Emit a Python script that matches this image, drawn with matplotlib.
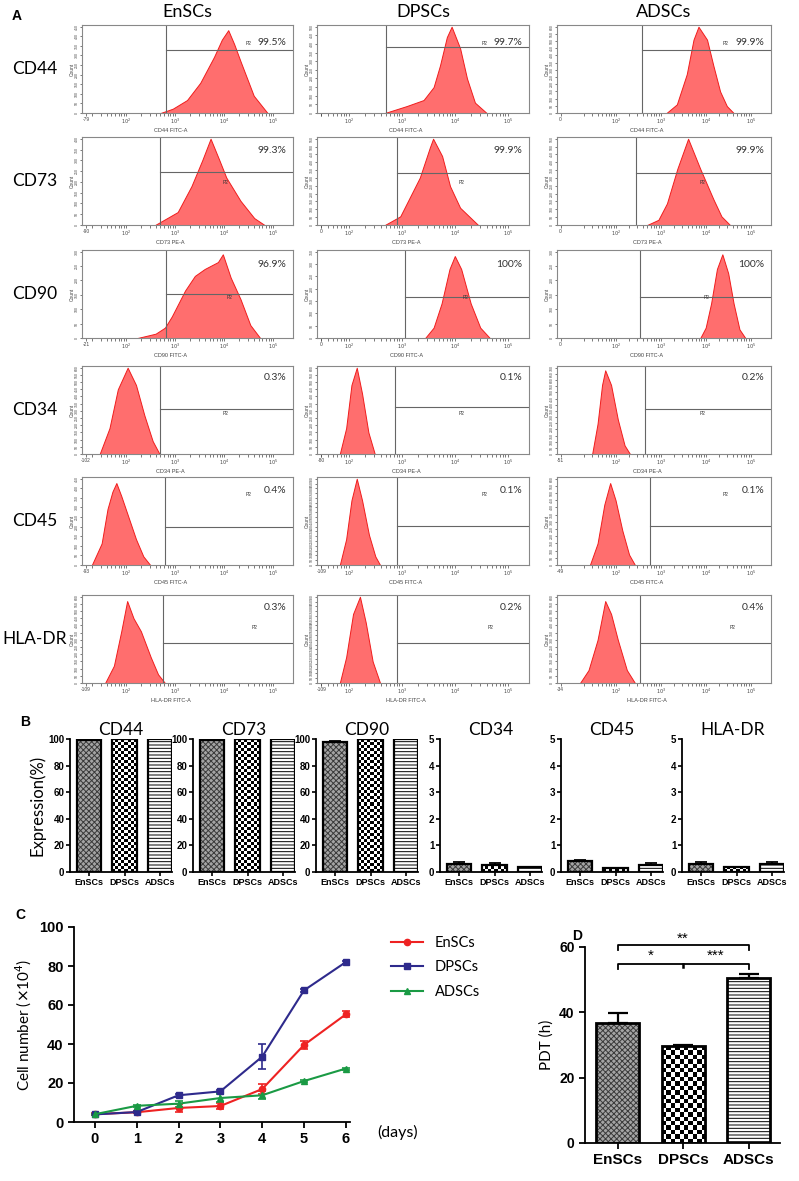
import numpy as np
import matplotlib
matplotlib.use("Agg")
import matplotlib.pyplot as plt

W, H = 799, 1181

# ---------------- data ----------------
markers = ["CD44", "CD73", "CD90", "CD34", "CD45", "HLA-DR"]
cells = ["EnSCs", "DPSCs", "ADSCs"]
channels = ["CD44 FITC-A", "CD73 PE-A", "CD90 FITC-A", "CD34 PE-A", "CD45 FITC-A", "HLA-DR FITC-A"]
percents = [["99.5%", "99.7%", "99.9%"],
            ["99.3%", "99.9%", "99.9%"],
            ["96.9%", "100%", "100%"],
            ["0.3%", "0.1%", "0.2%"],
            ["0.4%", "0.1%", "0.1%"],
            ["0.3%", "0.2%", "0.4%"]]
low_labels = [["-79", "", "0"], ["-90", "0", "0"], ["-21", "0", "0"],
              ["-102", "-80", "-51"], ["-93", "-109", "-49"], ["-109", "-109", "-34"]]
count_max = [[450, 500, 600], [400, 550, 550], [300, 350, 300],
             [600, 600, 700], [450, 900, 600], [600, 900, 600]]
gate_x = [[2.81, 2.70, 2.59], [2.69, 2.91, 2.46], [2.81, 3.06, 2.54],
          [2.69, 2.87, 2.66], [2.80, 2.90, 2.77], [2.75, 2.90, 2.54]]
gate_y = [[0.73, 0.76, 0.73], [0.61, 0.60, 0.60], [0.51, 0.48, 0.48],
          [0.52, 0.54, 0.52], [0.44, 0.45, 0.45], [0.46, 0.46, 0.46]]

# histogram outlines (x in log decades, y as fraction of axis)
hist_x = [
    [[2.70, 2.95, 3.24, 3.51, 3.79, 3.95, 4.08, 4.20, 4.33, 4.60, 4.88],
     [2.68, 3.09, 3.41, 3.60, 3.72, 3.85, 3.94, 4.10, 4.23, 4.38, 4.60],
     [3.13, 3.36, 3.58, 3.73, 3.84, 4.03, 4.17, 4.32, 4.47, 4.62]],
    [[2.59, 3.05, 3.33, 3.55, 3.72, 3.90, 4.04, 4.33, 4.61, 4.82],
     [2.68, 2.97, 3.34, 3.53, 3.59, 3.76, 3.91, 4.10, 4.44],
     [2.70, 2.95, 3.14, 3.37, 3.61, 3.88, 4.17, 4.35, 4.54]],
    [[2.23, 2.60, 2.79, 2.93, 3.20, 3.40, 3.60, 3.87, 3.97, 4.13, 4.33, 4.53, 4.73],
     [3.44, 3.60, 3.75, 3.90, 4.00, 4.12, 4.30, 4.48, 4.66],
     [3.88, 4.00, 4.12, 4.25, 4.37, 4.50, 4.62, 4.75, 4.88]],
    [[1.46, 1.66, 1.83, 2.03, 2.20, 2.37, 2.54, 2.68],
     [1.83, 1.95, 2.05, 2.15, 2.25, 2.37, 2.49],
     [1.48, 1.60, 1.70, 1.77, 1.90, 2.05, 2.20, 2.32]],
    [[1.30, 1.50, 1.62, 1.72, 1.80, 1.90, 2.05, 2.20, 2.35, 2.49],
     [1.83, 1.95, 2.05, 2.15, 2.25, 2.38, 2.50, 2.59],
     [1.43, 1.60, 1.75, 1.88, 2.00, 2.15, 2.30, 2.43]],
    [[1.57, 1.75, 1.90, 2.02, 2.15, 2.30, 2.50, 2.65, 2.79],
     [1.83, 1.95, 2.08, 2.21, 2.32, 2.45, 2.59],
     [1.21, 1.40, 1.60, 1.77, 1.90, 2.05, 2.25, 2.43]],
]
hist_y = [
    [[0, 0.05, 0.15, 0.35, 0.65, 0.85, 0.96, 0.80, 0.60, 0.20, 0],
     [0, 0.08, 0.15, 0.30, 0.55, 0.88, 1.00, 0.75, 0.40, 0.12, 0],
     [0, 0.10, 0.45, 0.85, 1.00, 0.85, 0.55, 0.25, 0.08, 0]],
    [[0, 0.15, 0.45, 0.75, 1.00, 0.75, 0.55, 0.28, 0.08, 0],
     [0, 0.10, 0.55, 0.90, 1.00, 0.80, 0.45, 0.20, 0],
     [0, 0.06, 0.25, 0.65, 1.00, 0.65, 0.30, 0.10, 0]],
    [[0, 0.05, 0.12, 0.25, 0.55, 0.72, 0.80, 0.88, 0.97, 0.70, 0.45, 0.15, 0],
     [0, 0.12, 0.40, 0.80, 0.95, 0.80, 0.40, 0.12, 0],
     [0, 0.12, 0.40, 0.80, 0.97, 0.75, 0.40, 0.10, 0]],
    [[0, 0.30, 0.75, 1.00, 0.80, 0.45, 0.15, 0],
     [0, 0.30, 0.80, 1.00, 0.70, 0.25, 0],
     [0, 0.35, 0.80, 0.97, 0.80, 0.40, 0.10, 0]],
    [[0, 0.25, 0.65, 0.85, 0.95, 0.80, 0.55, 0.30, 0.10, 0],
     [0, 0.30, 0.75, 1.00, 0.75, 0.35, 0.10, 0],
     [0, 0.25, 0.70, 0.95, 0.75, 0.40, 0.12, 0]],
    [[0, 0.20, 0.60, 0.95, 0.75, 0.60, 0.30, 0.10, 0],
     [0, 0.30, 0.80, 1.00, 0.70, 0.25, 0],
     [0, 0.15, 0.50, 0.95, 0.80, 0.50, 0.15, 0]],
]

# panel B
b_vals = [[99.5, 99.7, 99.9], [99.3, 99.9, 99.9], [98.0, 100.0, 100.0],
          [0.30, 0.25, 0.20], [0.40, 0.15, 0.25], [0.30, 0.20, 0.30]]
b_err = [[0.3, 0.2, 0.1], [0.5, 0.1, 0.1], [0.6, 0.1, 0.1],
         [0.08, 0.08, 0.0], [0.05, 0.0, 0.08], [0.08, 0.0, 0.08]]

# panel C
days = [0, 1, 2, 3, 4, 5, 6]
c_en = [4.0, 5.0, 7.2, 8.2, 16.9, 39.5, 55.2]
c_en_err = [0.5, 0.5, 2.0, 1.5, 2.5, 2.2, 1.5]
c_dp = [3.9, 5.1, 13.7, 15.7, 33.5, 67.5, 82.0]
c_dp_err = [0.3, 0.5, 0.8, 0.6, 6.5, 0.8, 0.8]
c_ad = [4.0, 8.3, 9.4, 12.3, 13.7, 21.0, 27.4]
c_ad_err = [0.3, 0.5, 1.5, 2.0, 2.0, 0.5, 0.5]

# panel D
d_vals = [36.7, 29.6, 50.5]
d_err = [3.1, 0.4, 1.3]

# ---------------- styles ----------------
plt.rcParams["font.family"] = ["Liberation Sans", "DejaVu Sans"]
plt.rcParams["hatch.linewidth"] = 0.7
title_font = "Lato"

col_px = [(82, 293), (317, 529), (557, 771)]
col_lim = [(1.1, 5.4), (1.4, 5.4), (0.7, 5.45)]
row_top = [25, 137, 250, 366, 477, 595]
pct_y = [0.80, 0.85, 0.83, 0.87, 0.85, 0.86]
p2_pos = [(0.79, 0.79), (0.68, 0.48), (0.70, 0.46), (0.68, 0.46), (0.79, 0.80), (0.82, 0.63)]

fig = plt.figure(figsize=(W / 100, H / 100), dpi=100)


def rect(l, t, r, b):
    return [l / W, 1 - b / H, (r - l) / W, (b - t) / H]


def ftext(x, y, s, **kw):
    fig.text(x / W, 1 - y / H, s, **kw)


def pattern_bar(ax, x, h, w, kind, lw, cell_px):
    xl, xr = ax.get_xlim()
    yl, yr = ax.get_ylim()
    if kind == 1:
        # checkerboard fill
        p0 = ax.transData.transform((x - w / 2, 0))
        p1 = ax.transData.transform((x + w / 2, h))
        nx = max(1, int(round((p1[0] - p0[0]) / cell_px)))
        ny = max(1, int(round((p1[1] - p0[1]) / cell_px)))
        board = np.indices((ny, nx)).sum(axis=0) % 2
        ax.imshow(board, cmap="gray", extent=[x - w / 2, x + w / 2, 0, h],
                  aspect="auto", interpolation="nearest", origin="lower", zorder=1)
    elif kind == 0:
        ax.bar(x, h, w, color="#a4a4a4", hatch="xxxxxx", edgecolor="#3a3a3a", linewidth=0)
    else:
        ax.bar(x, h, w, color="white", hatch="-----", edgecolor="black", linewidth=0)
    ax.bar(x, h, w, fill=False, edgecolor="black", linewidth=lw, zorder=2)
    ax.set_xlim(xl, xr)
    ax.set_ylim(yl, yr)


# ---------------- panel A ----------------
ftext(12, 16, "A", fontsize=10, fontweight="bold", va="center")
for j, c in enumerate(cells):
    l, r = col_px[j]
    ftext((l + r) / 2, 12, c, fontsize=13, family=title_font, ha="center", va="center")

for i, m in enumerate(markers):
    ftext(35, row_top[i] + 44, m, fontsize=12.5, family=title_font, ha="center", va="center")
    for j in range(3):
        l, r = col_px[j]
        t = row_top[i]
        ax = fig.add_axes(rect(l, t, r, t + 88))
        ax.fill_between(hist_x[i][j], hist_y[i][j], facecolor="#ff6e6e",
                        edgecolor="#f01c1c", linewidth=0.7)
        lo, hi = col_lim[j]
        ax.set_xlim(lo, hi)
        ax.set_ylim(0, 1.02)
        gx, gy = gate_x[i][j], gate_y[i][j]
        ax.axvline(gx, color="#666666", lw=0.8)
        ax.plot([gx, hi], [gy, gy], color="#666666", lw=0.8)
        ax.text(0.97, pct_y[i], percents[i][j], transform=ax.transAxes, ha="right",
                va="center", fontsize=7.5, family=title_font, color="#333333")
        ax.text(p2_pos[i][0], p2_pos[i][1], "P2", transform=ax.transAxes, ha="center",
                va="center", fontsize=3.5, color="#333333")
        for s in ax.spines.values():
            s.set_color("#888888")
            s.set_linewidth(0.8)
        major = [lo + 0.08, 2, 3, 4, 5]
        ax.set_xticks(major)
        ax.set_xticklabels([low_labels[i][j], r"$10^2$", r"$10^3$", r"$10^4$", r"$10^5$"])
        minor = [d + np.log10(k) for d in range(1, 5) for k in range(2, 10)
                 if lo < d + np.log10(k) < hi]
        ax.set_xticks(minor, minor=True)
        ax.tick_params(axis="x", which="both", labelsize=3.5, length=2, width=0.5,
                       pad=0.8, colors="#444444")
        cm = count_max[i][j]
        cticks = list(range(0, cm + 1, 50))
        ax.set_yticks([v / cm for v in cticks])
        ax.set_yticklabels([str(v) for v in cticks], rotation=90, va="center")
        ax.tick_params(axis="y", labelsize=2.5, length=1.5, width=0.5, pad=0.5,
                       colors="#444444")
        ax.set_xlabel(channels[i], fontsize=4, color="#444444", labelpad=0)
        ax.xaxis.set_label_coords(0.42, -0.17)
        ax.set_ylabel("Count", fontsize=3.5, color="#444444", labelpad=0.5)

# ---------------- panel B ----------------
ftext(20, 722, "B", fontsize=10, fontweight="bold", va="center")
b_left = [70, 193, 316, 440, 561, 682]
for k, m in enumerate(markers):
    ax = fig.add_axes(rect(b_left[k], 739, b_left[k] + 102, 872))
    xs = np.arange(3)
    ax.set_xlim(-0.55, 2.35)
    if k < 3:
        ax.set_ylim(0, 100)
        ax.set_yticks([0, 20, 40, 60, 80, 100])
    else:
        ax.set_ylim(0, 5)
        ax.set_yticks([0, 1, 2, 3, 4, 5])
    for n in range(3):
        pattern_bar(ax, xs[n], b_vals[k][n], 0.69, n, 1.6, 3.0)
    ax.errorbar(xs, b_vals[k], yerr=[np.zeros(3), b_err[k]], fmt="none",
                ecolor="black", elinewidth=1.3, capsize=4, capthick=1.3, zorder=3)
    ax.set_xticks(xs)
    ax.set_xticklabels(cells, fontsize=6.5, fontweight="bold")
    ax.tick_params(axis="y", labelsize=7, length=3, width=1.2, pad=1)
    ax.tick_params(axis="x", length=3, width=1.2, pad=1)
    for lab in ax.get_yticklabels():
        lab.set_fontweight("bold")
    ax.spines["top"].set_visible(False)
    ax.spines["right"].set_visible(False)
    ax.spines["left"].set_linewidth(1.3)
    ax.spines["bottom"].set_linewidth(1.3)
    ax.set_title(m, fontsize=12.5, family=title_font, pad=3)
    if k == 0:
        ax.set_ylabel("Expression(%)", fontsize=12, family=title_font, labelpad=2)

# ---------------- panel C ----------------
ftext(15, 915, "C", fontsize=10, fontweight="bold", va="center")
ax = fig.add_axes(rect(74, 927, 350, 1122))
series = [(c_en, c_en_err, "#ee2222", "o", "EnSCs"),
          (c_dp, c_dp_err, "#2e2a8c", "s", "DPSCs"),
          (c_ad, c_ad_err, "#1a9a44", "^", "ADSCs")]
for vals, errs, col, mk, name in series:
    ax.errorbar(days, vals, yerr=errs, color=col, marker=mk, markersize=4.5,
                linewidth=1.5, capsize=3, capthick=1.2, elinewidth=1.2)
    ax.plot([], [], color=col, marker=mk, markersize=4.5, linewidth=1.5, label=name)
ax.set_xlim(-0.5, 6.1)
ax.set_ylim(0, 100)
ax.set_xticks(days)
ax.set_yticks([0, 20, 40, 60, 80, 100])
ax.tick_params(labelsize=10.5, width=1.3, length=4)
for lab in ax.get_xticklabels() + ax.get_yticklabels():
    lab.set_fontweight("bold")
ax.spines["top"].set_visible(False)
ax.spines["right"].set_visible(False)
ax.spines["left"].set_linewidth(1.3)
ax.spines["bottom"].set_linewidth(1.3)
ax.set_ylabel(r"Cell number ($\times$10$^4$)", fontsize=11, family=title_font, labelpad=4)
ax.legend(loc="upper left", bbox_to_anchor=(1.1, 1.02), frameon=False,
          handlelength=2.2, labelspacing=0.7, prop={"family": title_font, "size": 10.5})
ftext(398, 1132, "(days)", fontsize=11.5, family=title_font, ha="center", va="center")

# ---------------- panel D ----------------
ftext(572, 936, "D", fontsize=10, fontweight="bold", va="center")
ax = fig.add_axes(rect(585, 947, 780, 1143))
xs = np.arange(3)
ax.set_xlim(-0.5, 2.48)
ax.set_ylim(0, 60)
for n in range(3):
    pattern_bar(ax, xs[n], d_vals[n], 0.66, n, 2.0, 4.3)
ax.errorbar(xs, d_vals, yerr=[np.zeros(3), d_err], fmt="none", ecolor="black",
            elinewidth=1.6, capsize=7, capthick=1.6, zorder=3)
ax.set_yticks([0, 20, 40, 60])
ax.set_xticks(xs)
ax.set_xticklabels(cells, fontsize=11, fontweight="bold")
ax.tick_params(axis="y", labelsize=10, width=1.3, length=4)
ax.tick_params(axis="x", width=1.3, length=4)
for lab in ax.get_yticklabels():
    lab.set_fontweight("bold")
ax.spines["top"].set_visible(False)
ax.spines["right"].set_visible(False)
ax.spines["left"].set_linewidth(1.3)
ax.spines["bottom"].set_linewidth(1.3)
ax.set_ylabel("PDT (h)", fontsize=11, family=title_font, labelpad=4)
# significance brackets
ax.plot([0, 0, 2, 2], [59.0, 60.7, 60.7, 59.0], color="black", lw=1.3, clip_on=False)
ax.text(1, 62.5, "**", ha="center", va="center", fontsize=11, clip_on=False)
ax.plot([0, 0, 2, 2], [53.3, 54.9, 54.9, 53.3], color="black", lw=1.3, clip_on=False)
ax.plot([1, 1], [54.9, 54.0], color="black", lw=1.8, clip_on=False)
ax.text(0.5, 57.2, "*", ha="center", va="center", fontsize=11)
ax.text(1.5, 57.2, "***", ha="center", va="center", fontsize=11)

plt.savefig("out.png", dpi=100)
